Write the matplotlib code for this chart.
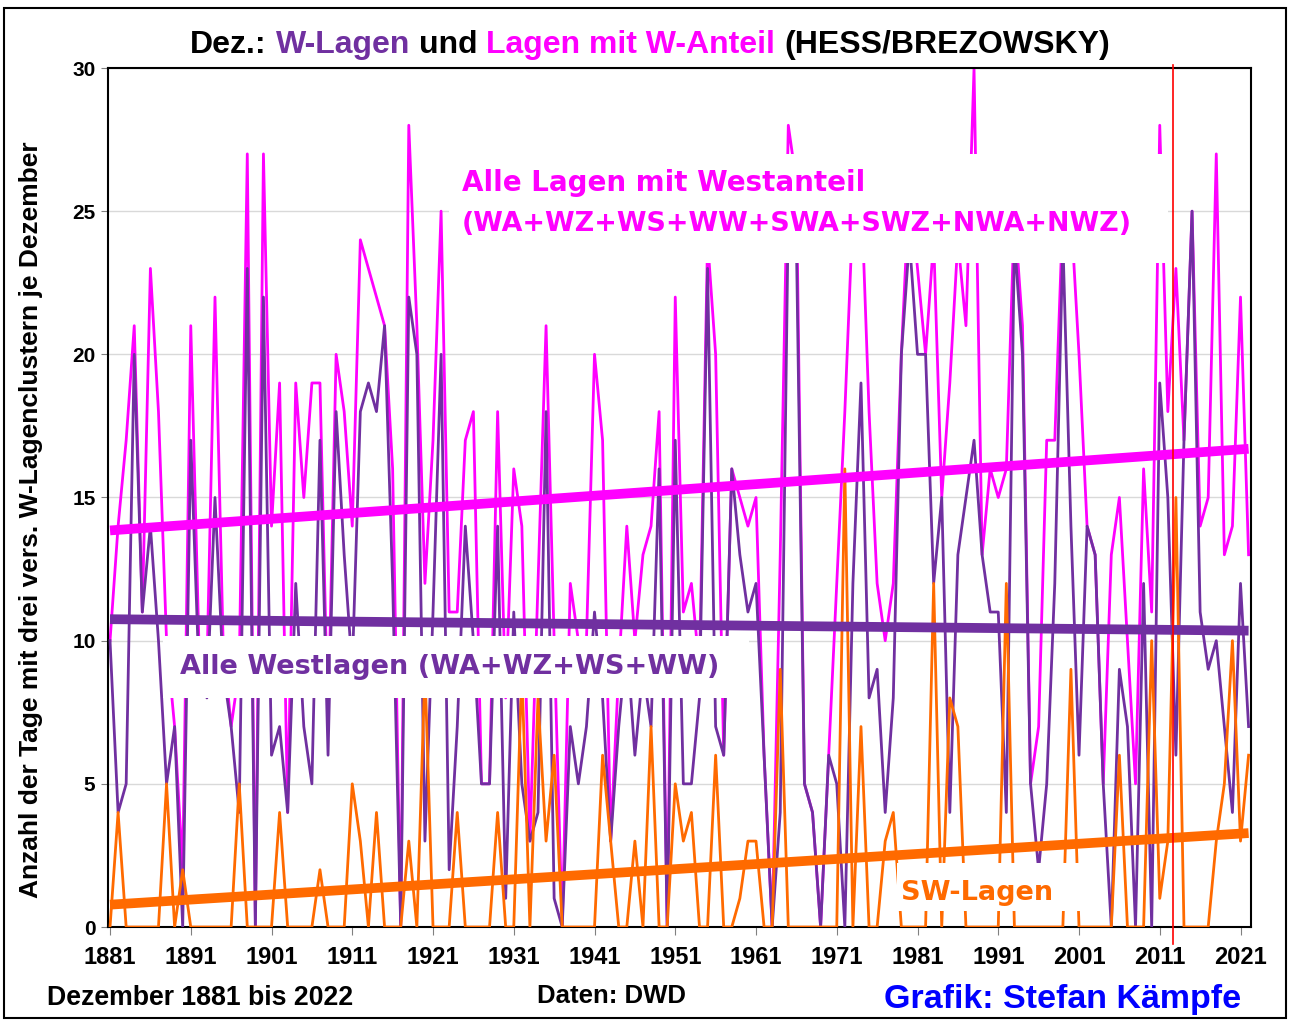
import numpy as np
import matplotlib
matplotlib.use("Agg")
import matplotlib.pyplot as plt
from matplotlib.patches import Rectangle

# December counts of circulation types (Hess/Brezowsky), 1881-2022
years = np.arange(1881, 2023)

# Alle Lagen mit Westanteil (WA+WZ+WS+WW+SWA+SWZ+NWA+NWZ)
w_anteil = [10, 14, 17, 21, 11, 23, 18, 10, 7, 2,
            21, 10, 9, 22, 10, 7, 9, 27, 0, 27,
            14, 19, 4, 19, 15, 19, 19, 7, 20, 18,
            14, 24, 23, 22, 21, 16, 0, 28, 21, 12,
            17, 25, 11, 11, 17, 18, 5, 5, 18, 8,
            16, 14, 3, 12, 21, 10, 0, 12, 10, 10,
            20, 17, 3, 9, 14, 10, 13, 14, 18, 0,
            22, 11, 12, 9, 24, 20, 6, 16, 15, 14,
            15, 6, 0, 13, 28, 26, 5, 4, 0, 6,
            12, 18, 25, 26, 18, 12, 10, 12, 20, 26,
            23, 20, 24, 15, 19, 24, 21, 30, 13, 16,
            15, 16, 25, 21, 5, 7, 17, 17, 25, 25,
            20, 14, 13, 5, 13, 15, 10, 5, 16, 11,
            28, 18, 23, 17, 25, 14, 15, 27, 13, 14,
            22, 13]

# Alle Westlagen (WA+WZ+WS+WW)
westlagen = [10, 4, 5, 20, 11, 14, 10, 5, 7, 0,
             17, 9, 8, 15, 9, 7, 4, 23, 0, 22,
             6, 7, 4, 12, 7, 5, 17, 6, 18, 13,
             9, 18, 19, 18, 21, 12, 0, 22, 20, 3,
             11, 20, 2, 7, 14, 10, 5, 5, 14, 1,
             11, 5, 3, 4, 18, 1, 0, 7, 5, 7,
             11, 8, 3, 7, 10, 6, 9, 7, 16, 0,
             17, 5, 5, 8, 23, 7, 6, 16, 13, 11,
             12, 6, 0, 4, 25, 24, 5, 4, 0, 6,
             5, 0, 12, 19, 8, 9, 4, 8, 20, 24,
             20, 20, 12, 15, 4, 13, 15, 17, 13, 11,
             11, 4, 24, 20, 5, 2, 5, 12, 24, 14,
             6, 14, 13, 5, 0, 9, 7, 0, 12, 0,
             19, 15, 6, 17, 25, 11, 9, 10, 7, 4,
             12, 7]

# SW-Lagen (SWA+SWZ)
sw_lagen = [0, 4, 0, 0, 0, 0, 0, 5, 0, 2,
            0, 0, 0, 0, 0, 0, 5, 0, 0, 0,
            0, 4, 0, 0, 0, 0, 2, 0, 0, 0,
            5, 3, 0, 4, 0, 0, 0, 3, 0, 9,
            0, 0, 0, 4, 0, 0, 0, 0, 4, 0,
            0, 9, 0, 8, 3, 6, 0, 0, 0, 0,
            0, 6, 3, 0, 0, 3, 0, 7, 0, 0,
            5, 3, 4, 0, 0, 6, 0, 0, 1, 3,
            3, 0, 0, 9, 0, 0, 0, 0, 0, 0,
            0, 16, 0, 7, 0, 0, 3, 4, 0, 0,
            0, 0, 12, 0, 8, 7, 0, 0, 0, 0,
            0, 12, 0, 0, 0, 0, 0, 0, 0, 9,
            0, 0, 0, 0, 0, 6, 0, 0, 0, 10,
            1, 3, 15, 0, 0, 0, 0, 3, 5, 10,
            3, 6]

# linear trends (value in 1881, value in 2022) as drawn in the chart
trend_anteil = [13.85, 16.7]
trend_west = [10.75, 10.35]
trend_sw = [0.78, 3.28]

tick_years = np.arange(1881, 2022, 10)
marker_year = 2012.7

MAGENTA = '#FF00FF'
PURPLE = '#7030A0'
ORANGE = '#FF6A00'
SANS = ['Liberation Sans', 'DejaVu Sans']
WIDE = ['DejaVu Sans']

W, H = 1290, 1021
fig = plt.figure(figsize=(W / 100, H / 100), dpi=100)
ax = fig.add_axes([108 / W, 1 - 927 / H, (1251 - 108) / W, (927 - 68) / H])

ax.plot(years, w_anteil, color=MAGENTA, lw=2.0, zorder=2)
ax.plot(years, westlagen, color=PURPLE, lw=2.0, zorder=3)
ax.plot(years, sw_lagen, color=ORANGE, lw=2.0, zorder=3.5)

# white label boxes hide the lines behind the texts
for x0, y0, x1, y1 in [(1923.0, 23.2, 2012.0, 27.0),
                       (1887.6, 8.0, 1960.1, 10.15),
                       (1978.4, 0.55, 2001.2, 2.25)]:
    ax.add_patch(Rectangle((x0, y0), x1 - x0, y1 - y0, facecolor='white',
                           edgecolor='none', zorder=4))

ends = [years[0], years[-1]]
ax.plot(ends, trend_anteil, color=MAGENTA, lw=7, solid_capstyle='butt', zorder=5)
ax.plot(ends, trend_west, color=PURPLE, lw=7, solid_capstyle='butt', zorder=5)
ax.plot(ends, trend_sw, color=ORANGE, lw=7, solid_capstyle='butt', zorder=5)

ax.plot([marker_year, marker_year], [-0.6, 30.1], color='red', lw=1.2,
        clip_on=False, zorder=6)

lkw = dict(fontweight='bold', family=WIDE, va='center', zorder=6)
ax.text(1924.6, 26.0, 'Alle Lagen mit Westanteil', color=MAGENTA,
        fontsize=20, **lkw)
ax.text(1924.6, 24.55, '(WA+WZ+WS+WW+SWA+SWZ+NWA+NWZ)', color=MAGENTA,
        fontsize=19.4, **lkw)
ax.text(1889.7, 9.08, 'Alle Westlagen (WA+WZ+WS+WW)', color=PURPLE,
        fontsize=19.5, **lkw)
ax.text(1978.9, 1.2, 'SW-Lagen', color=ORANGE, fontsize=19.5, **lkw)

ax.set_xlim(1880.75, 2022.3)
ax.set_ylim(0, 30)
ax.set_xticks(tick_years)
ax.set_xticklabels([str(y) for y in tick_years], fontsize=17,
                   fontweight='bold', family=SANS)
ax.set_yticks(np.arange(0, 31, 5))
ax.set_yticklabels([str(v) for v in range(0, 31, 5)], fontsize=15,
                   fontweight='bold', family=SANS)
ax.tick_params(axis='x', direction='out', length=6, color='#808080', pad=8)
ax.tick_params(axis='y', direction='out', length=5, color='#808080', pad=4)
ax.grid(axis='y', color='#D9D9D9', lw=1.0, zorder=0)
ax.set_axisbelow(True)
for s in ax.spines.values():
    s.set_linewidth(1.5)
    s.set_color('black')

ax.set_ylabel('Anzahl der Tage mit drei vers. W-Lagenclustern je Dezember',
              fontsize=19, fontweight='bold', family=SANS)
ax.yaxis.set_label_coords(-0.057, 0.474)

# multi-coloured title
parts = [('Dez.:', 'black'), ('W-Lagen', PURPLE), ('und', 'black'),
         ('Lagen mit W-Anteil', MAGENTA), ('(HESS/BREZOWSKY)', 'black')]
tkw = dict(fontsize=23, fontweight='bold', family=SANS, va='center')
r = fig.canvas.get_renderer()
texts = [fig.text(0, 1 - 45 / H, s, color=c, **tkw) for s, c in parts]
probe1 = fig.text(0, 0, 'x x', **tkw)
probe2 = fig.text(0, 0, 'xx', **tkw)
gap = probe1.get_window_extent(r).width - probe2.get_window_extent(r).width
probe1.remove()
probe2.remove()
widths = [t.get_window_extent(r).width for t in texts]
xpos = 650 - (sum(widths) + gap * (len(widths) - 1)) / 2
for t, w in zip(texts, widths):
    t.set_x(xpos / W)
    xpos += w + gap

fig.text(47 / W, 1 - 998 / H, 'Dezember 1881 bis 2022', fontsize=19.2,
         fontweight='bold', family=SANS, va='center')
fig.text(537 / W, 1 - 996 / H, 'Daten: DWD', fontsize=18.5,
         fontweight='bold', family=SANS, va='center')
fig.text(884 / W, 1 - 999 / H, 'Grafik: Stefan Kämpfe', fontsize=24.5,
         fontweight='bold', family=SANS, va='center', color='#0000FF')

fig.add_artist(Rectangle((4 / W, 3 / H), (1286 - 4) / W, (1013 - 3) / H,
                         transform=fig.transFigure, fill=False,
                         edgecolor='black', lw=1.5))

fig.savefig('out.png', dpi=100)
